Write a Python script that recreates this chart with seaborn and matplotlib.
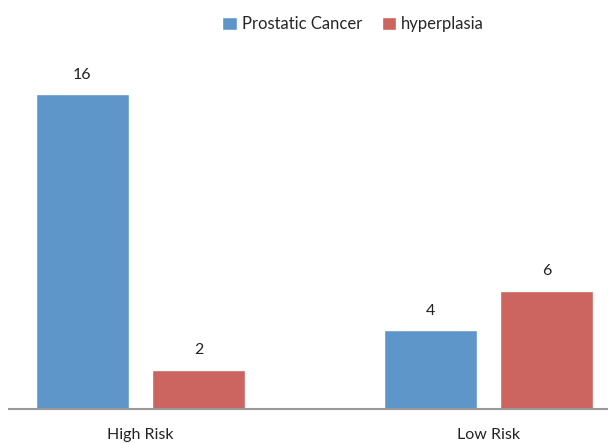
import matplotlib
matplotlib.use("Agg")
import matplotlib.pyplot as plt
import seaborn as sns
import pandas as pd

categories = ["High Risk", "Low Risk"]
series_names = ["Prostatic Cancer", "hyperplasia"]
prostatic_cancer = [16, 4]
hyperplasia = [2, 6]
colors = ["#5F96CA", "#CC6460"]

df = pd.DataFrame({
    "risk": categories * 2,
    "group": [series_names[0]] * 2 + [series_names[1]] * 2,
    "count": prostatic_cancer + hyperplasia,
})

sns.set_style("white")
plt.rcParams["font.family"] = ["Lato", "DejaVu Sans"]

fig = plt.figure(figsize=(6.08, 4.44), dpi=100)
ax = fig.add_axes([9 / 608, 35 / 444, 599 / 608, 374 / 444])

sns.barplot(data=df, x="risk", y="count", hue="group", hue_order=series_names,
            palette=colors, width=0.668, gap=0.2, saturation=1, ax=ax,
            legend=True, errorbar=None)

for cont in ax.containers:
    ax.bar_label(cont, labels=[f"{int(v)}" for v in cont.datavalues],
                 padding=9, fontsize=11.5, color="#222222")

ax.set_xlim(-0.378, 0.343 + 1)
ax.set_ylim(0, 19.0)
ax.set_xlabel("")
ax.set_ylabel("")
ax.set_yticks([])
ax.tick_params(axis="x", length=0, labelsize=11.5, colors="#222222", pad=14)
for s in ["top", "right", "left"]:
    ax.spines[s].set_visible(False)
ax.spines["bottom"].set_color("#999999")
ax.spines["bottom"].set_linewidth(1.5)

handles, labels = ax.get_legend_handles_labels()
ax.get_legend().remove()
fig.legend(handles, labels, loc="upper center", bbox_to_anchor=(0.581, 0.997),
           ncol=2, frameon=False, fontsize=12, handlelength=0.85,
           handleheight=0.85, handletextpad=0.3, columnspacing=1.22)

fig.savefig("out.png", dpi=100)
